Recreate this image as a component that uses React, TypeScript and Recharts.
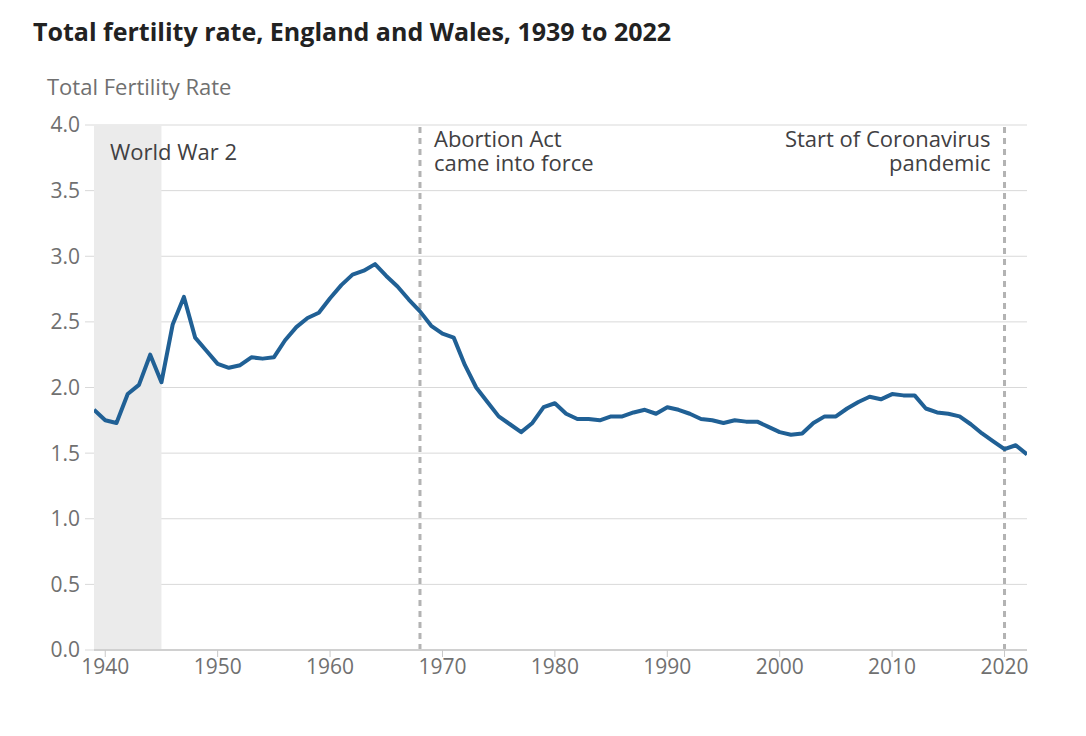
import React from "react";
import {
  LineChart,
  Line,
  XAxis,
  YAxis,
  CartesianGrid,
  ReferenceArea,
  ReferenceLine,
} from "recharts";

const years: number[] = [
  1939, 1940, 1941, 1942, 1943, 1944, 1945, 1946, 1947, 1948, 1949,
  1950, 1951, 1952, 1953, 1954, 1955, 1956, 1957, 1958, 1959,
  1960, 1961, 1962, 1963, 1964, 1965, 1966, 1967, 1968, 1969,
  1970, 1971, 1972, 1973, 1974, 1975, 1976, 1977, 1978, 1979,
  1980, 1981, 1982, 1983, 1984, 1985, 1986, 1987, 1988, 1989,
  1990, 1991, 1992, 1993, 1994, 1995, 1996, 1997, 1998, 1999,
  2000, 2001, 2002, 2003, 2004, 2005, 2006, 2007, 2008, 2009,
  2010, 2011, 2012, 2013, 2014, 2015, 2016, 2017, 2018, 2019,
  2020, 2021, 2022,
];

const tfr: number[] = [
  1.83, 1.75, 1.73, 1.95, 2.02, 2.25, 2.04, 2.48, 2.69, 2.38, 2.28,
  2.18, 2.15, 2.17, 2.23, 2.22, 2.23, 2.36, 2.46, 2.53, 2.57,
  2.68, 2.78, 2.86, 2.89, 2.94, 2.85, 2.77, 2.67, 2.58, 2.47,
  2.41, 2.38, 2.17, 2.0, 1.89, 1.78, 1.72, 1.66, 1.73, 1.85,
  1.88, 1.8, 1.76, 1.76, 1.75, 1.78, 1.78, 1.81, 1.83, 1.8,
  1.85, 1.83, 1.8, 1.76, 1.75, 1.73, 1.75, 1.74, 1.74, 1.7,
  1.66, 1.64, 1.65, 1.73, 1.78, 1.78, 1.84, 1.89, 1.93, 1.91,
  1.95, 1.94, 1.94, 1.84, 1.81, 1.8, 1.78, 1.72, 1.65, 1.59,
  1.53, 1.56, 1.49,
];

const xTicks: number[] = [1940, 1950, 1960, 1970, 1980, 1990, 2000, 2010, 2020];
const yTicks: number[] = [0, 0.5, 1, 1.5, 2, 2.5, 3, 3.5, 4];

const warStart = 1939;
const warEnd = 1945;
const abortionYear = 1968;
const covidYear = 2020;

const title = "Total fertility rate, England and Wales, 1939 to 2022";
const yLabel = "Total Fertility Rate";
const warLabel = ["World War 2"];
const abortionLabel = ["Abortion Act", "came into force"];
const covidLabel = ["Start of Coronavirus", "pandemic"];

const data = years.map((y, i) => ({ year: y, tfr: tfr[i] }));

const FONT = "'Open Sans', 'Noto Sans', sans-serif";

function makeLabel(lines: string[], dx: number, dy: number, anchor: "start" | "end") {
  return (props: any) => {
    const vb = props.viewBox || {};
    const x = (vb.x ?? 0) + dx;
    const y0 = (vb.y ?? 0) + dy;
    return (
      <text
        x={x}
        y={y0}
        textAnchor={anchor}
        fill="#414042"
        fontSize={22}
        fontFamily={FONT}
      >
        {lines.map((t, i) => (
          <tspan key={i} x={x} y={y0 + 8 + i * 24}>
            {t}
          </tspan>
        ))}
      </text>
    );
  };
}

export default function App() {
  return (
    <div style={{ position: "relative", width: 1078, height: 720, fontFamily: FONT }}>
      <div
        style={{
          position: "absolute",
          left: 25,
          top: 8,
          fontSize: 25,
          fontWeight: 700,
          color: "#222222",
          whiteSpace: "nowrap",
          lineHeight: "30px",
        }}
      >
        {title}
      </div>
      <div
        style={{
          position: "absolute",
          left: 39,
          top: 63,
          fontSize: 22,
          color: "#707070",
          whiteSpace: "nowrap",
          lineHeight: "30px",
        }}
      >
        {yLabel}
      </div>
      <LineChart
        width={1078}
        height={720}
        data={data}
        margin={{ top: 117, right: 59, bottom: 48, left: 0 }}
        style={{ position: "absolute", left: 0, top: 0 }}
      >
        <ReferenceArea
          x1={warStart}
          x2={warEnd}
          y1={0}
          y2={4}
          fill="#ebebeb"
          fillOpacity={1}
          stroke="none"
          label={makeLabel(warLabel, 16, 27, "start")}
        />
        <CartesianGrid vertical={false} stroke="#d9d9d9" strokeWidth={1} />
        <XAxis
          dataKey="year"
          type="number"
          domain={[1939, 2022]}
          ticks={xTicks}
          allowDataOverflow
          axisLine={{ stroke: "#d0d0d0", strokeWidth: 2 }}
          tickLine={{ stroke: "#c8c8c8" }}
          tickSize={7}
          tick={{ fill: "#707070", fontSize: 21, fontFamily: FONT }}
          height={30}
          interval={0}
        />
        <YAxis
          domain={[0, 4]}
          ticks={yTicks}
          width={86}
          axisLine={false}
          tickLine={{ stroke: "#d9d9d9" }}
          tickSize={9}
          tickMargin={5}
          tickFormatter={(v: number) => v.toFixed(1)}
          tick={{ fill: "#707070", fontSize: 21, fontFamily: FONT }}
          interval={0}
        />
        <ReferenceLine
          x={abortionYear}
          stroke="#b3b3b3"
          strokeWidth={3}
          strokeDasharray="6 5"
          label={makeLabel(abortionLabel, 14, 14, "start")}
        />
        <ReferenceLine
          x={covidYear}
          stroke="#b3b3b3"
          strokeWidth={3}
          strokeDasharray="6 5"
          label={makeLabel(covidLabel, -14, 14, "end")}
        />
        <Line
          type="linear"
          dataKey="tfr"
          stroke="#206095"
          strokeWidth={4}
          dot={false}
          isAnimationActive={false}
          strokeLinejoin="round"
        />
      </LineChart>
    </div>
  );
}
